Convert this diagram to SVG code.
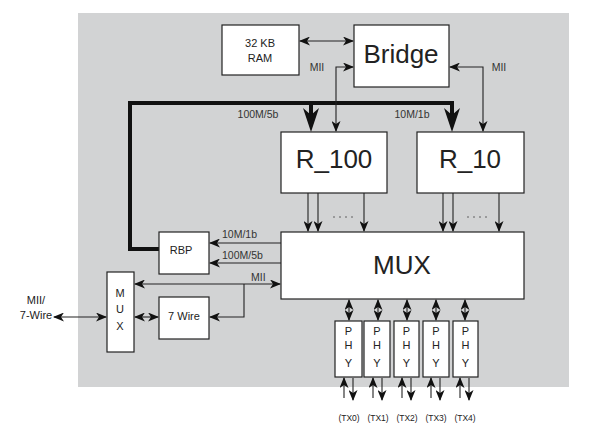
<svg xmlns="http://www.w3.org/2000/svg" width="595" height="427" viewBox="0 0 595 427">
<defs>
<marker id="a" markerUnits="userSpaceOnUse" markerWidth="11" markerHeight="9" refX="10" refY="4.5" orient="auto-start-reverse" viewBox="0 0 11 9">
<path d="M0,0 L11,4.5 L0,9 L3,4.5 z" fill="#111"/>
</marker>
<style>
.box{fill:#fff;stroke:#222;stroke-width:1.2}
.ar{fill:none;stroke:#222;stroke-width:1.1;marker-end:url(#a)}
.da{fill:none;stroke:#222;stroke-width:1.1;marker-start:url(#a);marker-end:url(#a)}
.thick{fill:none;stroke:#111;stroke-width:4}
.bighead{fill:#111}
.big{font-family:"Liberation Sans",Arial,sans-serif;font-size:26px;fill:#222;text-anchor:middle}
.t{font-family:"Liberation Sans",Arial,sans-serif;font-size:11px;fill:#222;text-anchor:middle}
.s{font-family:"Liberation Sans",Arial,sans-serif;font-size:10.5px;fill:#333}
.tx{font-family:"Liberation Sans",Arial,sans-serif;font-size:8.5px;fill:#222;text-anchor:middle}
.dots{fill:none;stroke:#444;stroke-width:0.8;stroke-dasharray:2 4}
</style>
</defs>
<rect x="78" y="13" width="491" height="374" fill="#d2d3d4"/>

<g id="connectors">
<path class="thick" d="M159,249 H130 V103 H452 V115 M311,103 V115"/>
<polygon class="bighead" points="303,108 311,115 319,108 311,132"/>
<polygon class="bighead" points="444,108 452,115 460,108 452,132"/>
<line class="da" x1="300" y1="41" x2="353" y2="41"/>
<path class="da" d="M336,131 V67 H353"/>
<path class="da" d="M450,67 H483 V131"/>
<line class="ar" x1="308" y1="193" x2="308" y2="231"/>
<line class="ar" x1="318" y1="193" x2="318" y2="231"/>
<line class="ar" x1="364" y1="193" x2="364" y2="231"/>
<line class="ar" x1="443" y1="193" x2="443" y2="231"/>
<line class="ar" x1="453" y1="193" x2="453" y2="231"/>
<line class="ar" x1="499" y1="193" x2="499" y2="231"/>
<line class="dots" x1="333" y1="217" x2="355" y2="217"/>
<line class="dots" x1="467" y1="217" x2="489" y2="217"/>
<line class="ar" x1="281" y1="243" x2="210" y2="243"/>
<line class="ar" x1="281" y1="263" x2="210" y2="263"/>
<line class="da" x1="135" y1="284" x2="280" y2="284"/>
<path class="ar" d="M244,284 V317 H210"/>
<line class="da" x1="135" y1="317" x2="158" y2="317"/>
<line class="da" x1="54" y1="317" x2="106" y2="317"/>
<line class="da" x1="349" y1="300" x2="349" y2="320"/>
<line class="da" x1="378" y1="300" x2="378" y2="320"/>
<line class="da" x1="407" y1="300" x2="407" y2="320"/>
<line class="da" x1="436" y1="300" x2="436" y2="320"/>
<line class="da" x1="465" y1="300" x2="465" y2="320"/>
<line class="ar" x1="344" y1="398" x2="344" y2="378"/>
<line class="ar" x1="353" y1="378" x2="353" y2="400"/>
<line class="ar" x1="373" y1="398" x2="373" y2="378"/>
<line class="ar" x1="382" y1="378" x2="382" y2="400"/>
<line class="ar" x1="402" y1="398" x2="402" y2="378"/>
<line class="ar" x1="411" y1="378" x2="411" y2="400"/>
<line class="ar" x1="431" y1="398" x2="431" y2="378"/>
<line class="ar" x1="440" y1="378" x2="440" y2="400"/>
<line class="ar" x1="460" y1="398" x2="460" y2="378"/>
<line class="ar" x1="469" y1="378" x2="469" y2="400"/>
<text class="s" x="258" y="118" text-anchor="middle">100M/5b</text>
<text class="s" x="412" y="118" text-anchor="middle">10M/1b</text>
<text class="s" x="317" y="71" text-anchor="middle">MII</text>
<text class="s" x="499" y="71" text-anchor="middle">MII</text>
<text class="s" x="222" y="238">10M/1b</text>
<text class="s" x="222" y="259">100M/5b</text>
<text class="s" x="251" y="281">MII</text>
<text class="t" x="36" y="304" text-anchor="end">MII/</text>
<text class="t" x="36" y="319" text-anchor="end">7-Wire</text>
</g>

<g id="ram"><rect class="box" x="222" y="25" width="77" height="50"/><text class="t" x="260" y="47">32 KB</text><text class="t" x="260" y="62">RAM</text></g>
<g id="bridge"><rect class="box" x="354" y="25" width="95" height="62"/><text class="big" x="401" y="63">Bridge</text></g>
<g id="r100"><rect class="box" x="281" y="132" width="106" height="61"/><text class="big" x="334" y="168">R_100</text></g>
<g id="r10"><rect class="box" x="417" y="132" width="107" height="61"/><text class="big" x="470" y="168">R_10</text></g>
<g id="mux"><rect class="box" x="281" y="232" width="243" height="67"/><text class="big" x="402" y="274">MUX</text></g>
<g id="rbp"><rect class="box" x="159" y="232" width="50" height="42"/><text class="t" x="181" y="254">RBP</text></g>
<g id="smux"><rect class="box" x="107" y="272" width="27" height="80"/><text class="t" x="120" y="297">M</text><text class="t" x="120" y="313">U</text><text class="t" x="120" y="330">X</text></g>
<g id="sevenwire"><rect class="box" x="159" y="297" width="50" height="42"/><text class="t" x="184" y="320">7 Wire</text></g>
<g id="phy0"><rect class="box" x="335" y="321" width="27" height="56"/><text class="t" x="348.5" y="335">P</text><text class="t" x="348.5" y="349">H</text><text class="t" x="348.5" y="367">Y</text><text class="tx" x="349" y="421">(TX0)</text></g>
<g id="phy1"><rect class="box" x="364" y="321" width="26" height="56"/><text class="t" x="377" y="335">P</text><text class="t" x="377" y="349">H</text><text class="t" x="377" y="367">Y</text><text class="tx" x="378" y="421">(TX1)</text></g>
<g id="phy2"><rect class="box" x="394" y="321" width="25" height="56"/><text class="t" x="406.5" y="335">P</text><text class="t" x="406.5" y="349">H</text><text class="t" x="406.5" y="367">Y</text><text class="tx" x="407" y="421">(TX2)</text></g>
<g id="phy3"><rect class="box" x="423" y="321" width="26" height="56"/><text class="t" x="436" y="335">P</text><text class="t" x="436" y="349">H</text><text class="t" x="436" y="367">Y</text><text class="tx" x="436" y="421">(TX3)</text></g>
<g id="phy4"><rect class="box" x="453" y="321" width="25" height="56"/><text class="t" x="465.5" y="335">P</text><text class="t" x="465.5" y="349">H</text><text class="t" x="465.5" y="367">Y</text><text class="tx" x="465" y="421">(TX4)</text></g>
</svg>
